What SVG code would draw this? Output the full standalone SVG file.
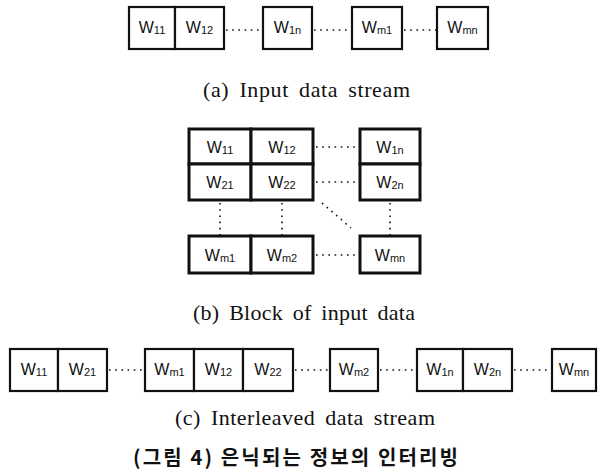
<svg xmlns="http://www.w3.org/2000/svg" width="598" height="474" viewBox="0 0 598 474">
  <style>
    .cell { fill: #ffffff; stroke: #111111; stroke-width: 2.2; }
    .cellb { fill: #ffffff; stroke: #111111; stroke-width: 3; }
    .lbl { font-family: "Liberation Sans", Arial, sans-serif; font-size: 16px; fill: #111111; text-anchor: middle; }
    .sub { font-size: 11px; }
    .dots { stroke: #111111; stroke-width: 1.6; stroke-dasharray: 1.6 4.6; fill: none; }
    .cap { font-family: "Liberation Serif", "Times New Roman", serif; font-size: 22px; word-spacing: 4px; fill: #111111; text-anchor: middle; }
    .title { font-family: "Noto Sans CJK KR", sans-serif; font-size: 20px; font-weight: bold; fill: #111111; text-anchor: middle; }
  </style>

  <!-- connectors (dotted) -->
  <g id="connectors">
    <!-- (a) input stream -->
    <line class="dots" x1="226" y1="30" x2="262" y2="30"/>
    <line class="dots" x1="314" y1="30" x2="351" y2="30"/>
    <line class="dots" x1="404" y1="30" x2="436" y2="30"/>
    <!-- (b) block -->
    <line class="dots" x1="316" y1="147" x2="359" y2="147"/>
    <line class="dots" x1="316" y1="182" x2="359" y2="182"/>
    <line class="dots" x1="220" y1="203" x2="220" y2="235"/>
    <line class="dots" x1="282" y1="203" x2="282" y2="235"/>
    <line class="dots" x1="390" y1="203" x2="390" y2="235"/>
    <line class="dots" x1="322" y1="203" x2="351" y2="228"/>
    <line class="dots" x1="316" y1="255" x2="359" y2="255"/>
    <!-- (c) interleaved stream -->
    <line class="dots" x1="109" y1="370" x2="144" y2="370"/>
    <line class="dots" x1="295" y1="370" x2="329" y2="370"/>
    <line class="dots" x1="380" y1="370" x2="416" y2="370"/>
    <line class="dots" x1="514" y1="370" x2="551" y2="370"/>
  </g>

  <!-- (a) Input data stream -->
  <g id="a_w11"><rect class="cell" x="129" y="7" width="46" height="42"/><text class="lbl" x="152" y="33">W<tspan class="sub" dy="1">11</tspan></text></g>
  <g id="a_w12"><rect class="cell" x="175" y="7" width="49" height="42"/><text class="lbl" x="199.5" y="33">W<tspan class="sub" dy="1">12</tspan></text></g>
  <g id="a_w1n"><rect class="cell" x="263" y="7" width="49" height="42"/><text class="lbl" x="287.5" y="33">W<tspan class="sub" dy="1">1n</tspan></text></g>
  <g id="a_wm1"><rect class="cell" x="352" y="7" width="50" height="42"/><text class="lbl" x="377" y="33">W<tspan class="sub" dy="1">m1</tspan></text></g>
  <g id="a_wmn"><rect class="cell" x="437" y="7" width="51" height="42"/><text class="lbl" x="462.5" y="33">W<tspan class="sub" dy="1">mn</tspan></text></g>

  <text class="cap" x="306.5" y="97" textLength="207" lengthAdjust="spacing">(a) Input data stream</text>

  <!-- (b) Block of input data -->
  <g id="b_w11"><rect class="cellb" x="189" y="129" width="62" height="35"/><text class="lbl" x="220" y="153">W<tspan class="sub" dy="1">11</tspan></text></g>
  <g id="b_w12"><rect class="cellb" x="251" y="129" width="62" height="35"/><text class="lbl" x="282" y="153">W<tspan class="sub" dy="1">12</tspan></text></g>
  <g id="b_w1n"><rect class="cellb" x="360" y="129" width="60" height="35"/><text class="lbl" x="390" y="153">W<tspan class="sub" dy="1">1n</tspan></text></g>
  <g id="b_w21"><rect class="cellb" x="189" y="164" width="62" height="36"/><text class="lbl" x="220" y="188">W<tspan class="sub" dy="1">21</tspan></text></g>
  <g id="b_w22"><rect class="cellb" x="251" y="164" width="62" height="36"/><text class="lbl" x="282" y="188">W<tspan class="sub" dy="1">22</tspan></text></g>
  <g id="b_w2n"><rect class="cellb" x="360" y="164" width="60" height="36"/><text class="lbl" x="390" y="188">W<tspan class="sub" dy="1">2n</tspan></text></g>
  <g id="b_wm1"><rect class="cellb" x="189" y="236" width="62" height="37"/><text class="lbl" x="220" y="261">W<tspan class="sub" dy="1">m1</tspan></text></g>
  <g id="b_wm2"><rect class="cellb" x="251" y="236" width="62" height="37"/><text class="lbl" x="282" y="261">W<tspan class="sub" dy="1">m2</tspan></text></g>
  <g id="b_wmn"><rect class="cellb" x="360" y="236" width="60" height="37"/><text class="lbl" x="390" y="261">W<tspan class="sub" dy="1">mn</tspan></text></g>

  <text class="cap" x="304" y="320" textLength="222" lengthAdjust="spacing">(b) Block of input data</text>

  <!-- (c) Interleaved data stream -->
  <g id="c_w11"><rect class="cell" x="10" y="349" width="48" height="42"/><text class="lbl" x="34" y="375">W<tspan class="sub" dy="1">11</tspan></text></g>
  <g id="c_w21"><rect class="cell" x="58" y="349" width="49" height="42"/><text class="lbl" x="82.5" y="375">W<tspan class="sub" dy="1">21</tspan></text></g>
  <g id="c_wm1"><rect class="cell" x="145" y="349" width="49" height="42"/><text class="lbl" x="169.5" y="375">W<tspan class="sub" dy="1">m1</tspan></text></g>
  <g id="c_w12"><rect class="cell" x="194" y="349" width="49" height="42"/><text class="lbl" x="218.5" y="375">W<tspan class="sub" dy="1">12</tspan></text></g>
  <g id="c_w22"><rect class="cell" x="243" y="349" width="50" height="42"/><text class="lbl" x="268" y="375">W<tspan class="sub" dy="1">22</tspan></text></g>
  <g id="c_wm2"><rect class="cell" x="330" y="349" width="48" height="42"/><text class="lbl" x="354" y="375">W<tspan class="sub" dy="1">m2</tspan></text></g>
  <g id="c_w1n"><rect class="cell" x="417" y="349" width="46" height="42"/><text class="lbl" x="440" y="375">W<tspan class="sub" dy="1">1n</tspan></text></g>
  <g id="c_w2n"><rect class="cell" x="463" y="349" width="49" height="42"/><text class="lbl" x="487.5" y="375">W<tspan class="sub" dy="1">2n</tspan></text></g>
  <g id="c_wmn"><rect class="cell" x="552" y="349" width="44" height="42"/><text class="lbl" x="574" y="375">W<tspan class="sub" dy="1">mn</tspan></text></g>

  <text class="cap" x="305" y="425" textLength="260" lengthAdjust="spacing">(c) Interleaved data stream</text>

  <text class="title" x="295.5" y="465" textLength="325" lengthAdjust="spacing">(그림 4) 은닉되는 정보의 인터리빙</text>
</svg>
